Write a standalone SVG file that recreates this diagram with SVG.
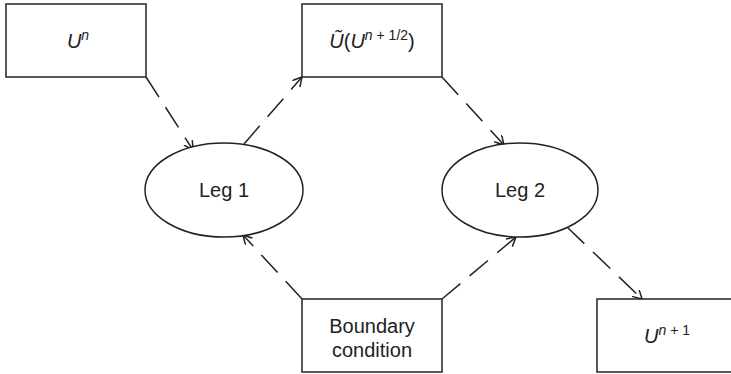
<svg xmlns="http://www.w3.org/2000/svg" width="731" height="374" viewBox="0 0 731 374">
<style>
.box{fill:#fff;stroke:#222;stroke-width:1.5}
.ell{fill:#fff;stroke:#222;stroke-width:1.5}
.t{font-family:"Liberation Sans",Arial,sans-serif;font-size:20px;fill:#222;text-anchor:middle}
.i{font-style:italic}
.s{font-size:14px}
.c{fill:none;stroke:#222;stroke-width:1.5;stroke-dasharray:24 12}
</style>
<defs>
<marker id="a" markerUnits="userSpaceOnUse" markerWidth="12" markerHeight="12" refX="9" refY="5" orient="auto">
<path d="M0,0 L9,5 L0,10" fill="none" stroke="#222" stroke-width="1.5"/>
</marker>
</defs>
<rect width="731" height="374" fill="#fff"/>
<g id="connectors">
<line class="c" x1="146" y1="77" x2="193" y2="150" marker-end="url(#a)"/>
<line class="c" x1="244" y1="144" x2="302" y2="77" marker-end="url(#a)"/>
<line class="c" x1="442" y1="77" x2="504" y2="145" marker-end="url(#a)"/>
<line class="c" x1="302" y1="299" x2="243" y2="235" marker-end="url(#a)"/>
<line class="c" x1="442" y1="299" x2="516" y2="237" marker-end="url(#a)"/>
<line class="c" x1="567" y1="227" x2="642" y2="299" marker-end="url(#a)"/>
</g>
<g id="un">
<rect class="box" x="6" y="4" width="140" height="73"/>
<text class="t" x="78" y="48"><tspan class="i">U</tspan><tspan class="i s" dy="-8">n</tspan></text>
</g>
<g id="utilde">
<rect class="box" x="302" y="4" width="140" height="73"/>
<text class="t" x="372" y="48"><tspan class="i">Ũ</tspan>(<tspan class="i">U</tspan><tspan class="s" dy="-8"><tspan class="i">n</tspan> + 1/2</tspan><tspan dy="8">)</tspan></text>
</g>
<g id="leg1">
<ellipse class="ell" cx="224" cy="190" rx="79" ry="47"/>
<text class="t" x="224" y="197">Leg 1</text>
</g>
<g id="leg2">
<ellipse class="ell" cx="520" cy="190" rx="78" ry="47"/>
<text class="t" x="520" y="197">Leg 2</text>
</g>
<g id="boundary">
<rect class="box" x="302" y="299" width="140" height="73"/>
<text class="t" x="372" y="333">Boundary</text>
<text class="t" x="372" y="357">condition</text>
</g>
<g id="un1">
<rect class="box" x="597" y="299" width="136" height="73"/>
<text class="t" x="667" y="343"><tspan class="i">U</tspan><tspan class="s" dy="-8"><tspan class="i">n</tspan> + 1</tspan></text>
</g>
</svg>
